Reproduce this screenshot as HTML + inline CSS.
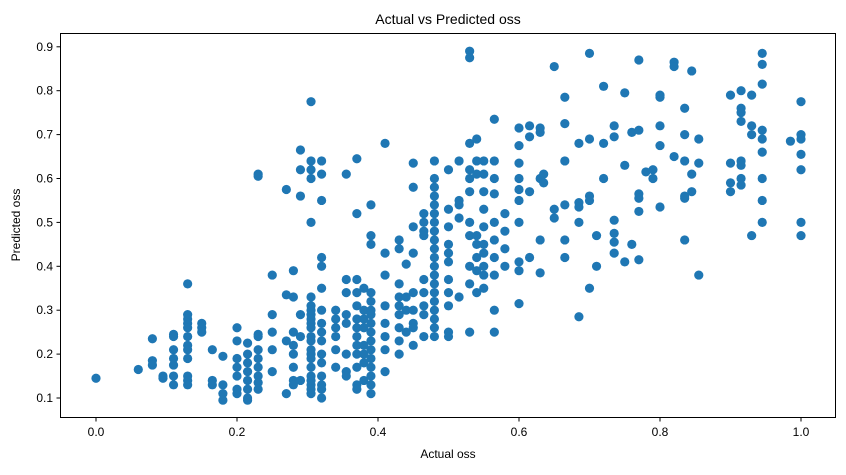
<!DOCTYPE html>
<html><head><meta charset="utf-8"><style>
html,body{margin:0;padding:0;background:#fff;}
svg text{font-family:"Liberation Sans",sans-serif;fill:#000;}
</style></head><body>
<svg id="chart" width="846" height="470" xmlns="http://www.w3.org/2000/svg">
<text x="448" y="24" font-size="14" text-anchor="middle">Actual vs Predicted oss</text>
<text x="448" y="458" font-size="12" text-anchor="middle">Actual oss</text>
<text x="20" y="225" font-size="12" text-anchor="middle" transform="rotate(-90 20 225)">Predicted oss</text>
<g id="ticks"></g>
<g id="points"></g>
<rect x="60.5" y="33.5" width="775" height="384" fill="none" stroke="#000" stroke-width="1"/>
</svg>
<script>
const actualValues = [0.0,0.06,0.08,0.095,0.11,0.13,0.15,0.165,0.18,0.2,0.215,0.23,0.25,0.27,0.28,0.29,0.305,0.32,0.34,0.355,0.37,0.38,0.39,0.41,0.43,0.44,0.45,0.465,0.48,0.5,0.515,0.53,0.54,0.55,0.565,0.58,0.6,0.615,0.63,0.635,0.65,0.665,0.685,0.7,0.71,0.72,0.735,0.75,0.76,0.77,0.78,0.79,0.8,0.82,0.835,0.845,0.855,0.9,0.915,0.93,0.945,0.985,1.0];
const predictedValues = [
[0.145],[0.165],[0.235,0.185,0.175],[0.15,0.145],
[0.245,0.24,0.21,0.19,0.175,0.15,0.13],
[0.36,0.29,0.28,0.27,0.26,0.24,0.22,0.21,0.19,0.15,0.14,0.13],
[0.27,0.26,0.25],[0.21,0.14,0.13],[0.195,0.13,0.11,0.095],
[0.26,0.23,0.19,0.17,0.15,0.12,0.11],
[0.225,0.2,0.18,0.16,0.14,0.12,0.1,0.095],
[0.61,0.605,0.245,0.24,0.21,0.19,0.17,0.15,0.135,0.12],
[0.38,0.29,0.25,0.21,0.16],[0.575,0.335,0.23,0.11],
[0.39,0.33,0.25,0.22,0.2,0.17,0.14,0.13],
[0.665,0.62,0.56,0.29,0.24,0.14],
[0.775,0.64,0.62,0.6,0.5,0.33,0.31,0.3,0.29,0.28,0.27,0.26,0.24,0.23,0.21,0.2,0.19,0.17,0.15,0.14,0.13,0.12,0.11],
[0.64,0.61,0.55,0.42,0.4,0.35,0.3,0.27,0.25,0.23,0.2,0.18,0.15,0.13,0.12,0.1],
[0.3,0.28,0.26,0.24,0.21,0.17],
[0.61,0.37,0.34,0.29,0.27,0.2,0.16,0.15],
[0.645,0.52,0.37,0.34,0.31,0.28,0.26,0.24,0.22,0.2,0.17,0.13,0.12],
[0.35,0.3,0.28,0.26,0.22,0.2,0.18,0.14],
[0.54,0.47,0.45,0.34,0.32,0.3,0.29,0.27,0.25,0.23,0.21,0.19,0.17,0.15,0.13,0.11],
[0.68,0.43,0.38,0.31,0.27,0.24,0.21,0.16],
[0.46,0.44,0.36,0.33,0.31,0.29,0.26,0.23,0.2],
[0.405,0.33,0.3,0.25],
[0.635,0.58,0.49,0.43,0.34,0.3,0.27,0.26,0.22],
[0.52,0.5,0.48,0.47,0.37,0.34,0.31,0.29,0.24],
[0.64,0.6,0.58,0.56,0.54,0.52,0.5,0.48,0.46,0.44,0.42,0.4,0.38,0.36,0.34,0.32,0.3,0.28,0.26,0.24],
[0.62,0.53,0.49,0.45,0.43,0.41,0.37,0.34,0.31,0.25,0.24],
[0.64,0.55,0.54,0.51,0.33],
[0.89,0.875,0.68,0.62,0.6,0.57,0.5,0.47,0.4,0.36,0.25],
[0.69,0.64,0.61,0.47,0.45,0.42,0.39,0.34],
[0.64,0.61,0.57,0.53,0.49,0.45,0.43,0.4,0.38,0.35],
[0.735,0.64,0.6,0.565,0.5,0.46,0.42,0.38,0.3,0.25],
[0.52,0.48,0.44,0.4],
[0.715,0.675,0.635,0.6,0.575,0.55,0.5,0.41,0.39,0.315],
[0.72,0.695,0.57,0.42],[0.705,0.715,0.6,0.46,0.385],[0.61,0.59],
[0.855,0.53,0.51],[0.785,0.725,0.64,0.54,0.46,0.42],
[0.68,0.545,0.535,0.5,0.285],[0.885,0.69,0.56,0.55,0.35],[0.47,0.4],
[0.81,0.68,0.6],[0.72,0.695,0.505,0.475,0.455,0.43],[0.795,0.63,0.41],
[0.705,0.45],[0.87,0.71,0.565,0.555,0.525,0.415],[0.615],[0.6,0.62],
[0.79,0.785,0.72,0.675,0.535],[0.865,0.855,0.65],
[0.76,0.7,0.64,0.56,0.555,0.46],[0.845,0.61,0.57],[0.69,0.635,0.38],
[0.79,0.635,0.59,0.57],[0.8,0.76,0.75,0.73,0.64,0.63,0.6,0.585],
[0.79,0.72,0.7,0.47],[0.885,0.86,0.815,0.71,0.69,0.66,0.6,0.55,0.5],
[0.685],[0.775,0.7,0.69,0.655,0.62,0.5,0.47]
];
const xTickLabels = ["0.0","0.2","0.4","0.6","0.8","1.0"];
const yTickLabels = ["0.1","0.2","0.3","0.4","0.5","0.6","0.7","0.8","0.9"];

const NS="http://www.w3.org/2000/svg";
function sx(v){return 96+v*705;}
function sy(v){return 398-(v-0.1)*439;}
const tg=document.getElementById('ticks');
xTickLabels.forEach(function(l){
  const x=sx(parseFloat(l));
  const ln=document.createElementNS(NS,'line');
  ln.setAttribute('x1',x);ln.setAttribute('x2',x);ln.setAttribute('y1',418);ln.setAttribute('y2',421.5);ln.setAttribute('stroke','#000');
  
  
  tg.appendChild(ln);
  const t=document.createElementNS(NS,'text');
  t.setAttribute('x',x);t.setAttribute('y',436);t.setAttribute('font-size','12');t.setAttribute('text-anchor','middle');
  t.textContent=l;
  
  
  tg.appendChild(t);
});
yTickLabels.forEach(function(l){
  const y=sy(parseFloat(l));
  const ln=document.createElementNS(NS,'line');
  ln.setAttribute('x1',56.5);ln.setAttribute('x2',60);ln.setAttribute('y1',y);ln.setAttribute('y2',y);ln.setAttribute('stroke','#000');
  
  
  tg.appendChild(ln);
  const t=document.createElementNS(NS,'text');
  t.setAttribute('x',53);t.setAttribute('y',y+4);t.setAttribute('font-size','12');t.setAttribute('text-anchor','end');
  t.textContent=l;
  
  
  tg.appendChild(t);
});
const pg=document.getElementById('points');
actualValues.forEach(function(a,i){
  predictedValues[i].forEach(function(p){
    const c=document.createElementNS(NS,'circle');
    c.setAttribute('cx',sx(a));c.setAttribute('cy',sy(p));c.setAttribute('r',4.6);c.setAttribute('fill','#1f77b4');
    
    
    pg.appendChild(c);
  });
});
</script>
</body></html>
